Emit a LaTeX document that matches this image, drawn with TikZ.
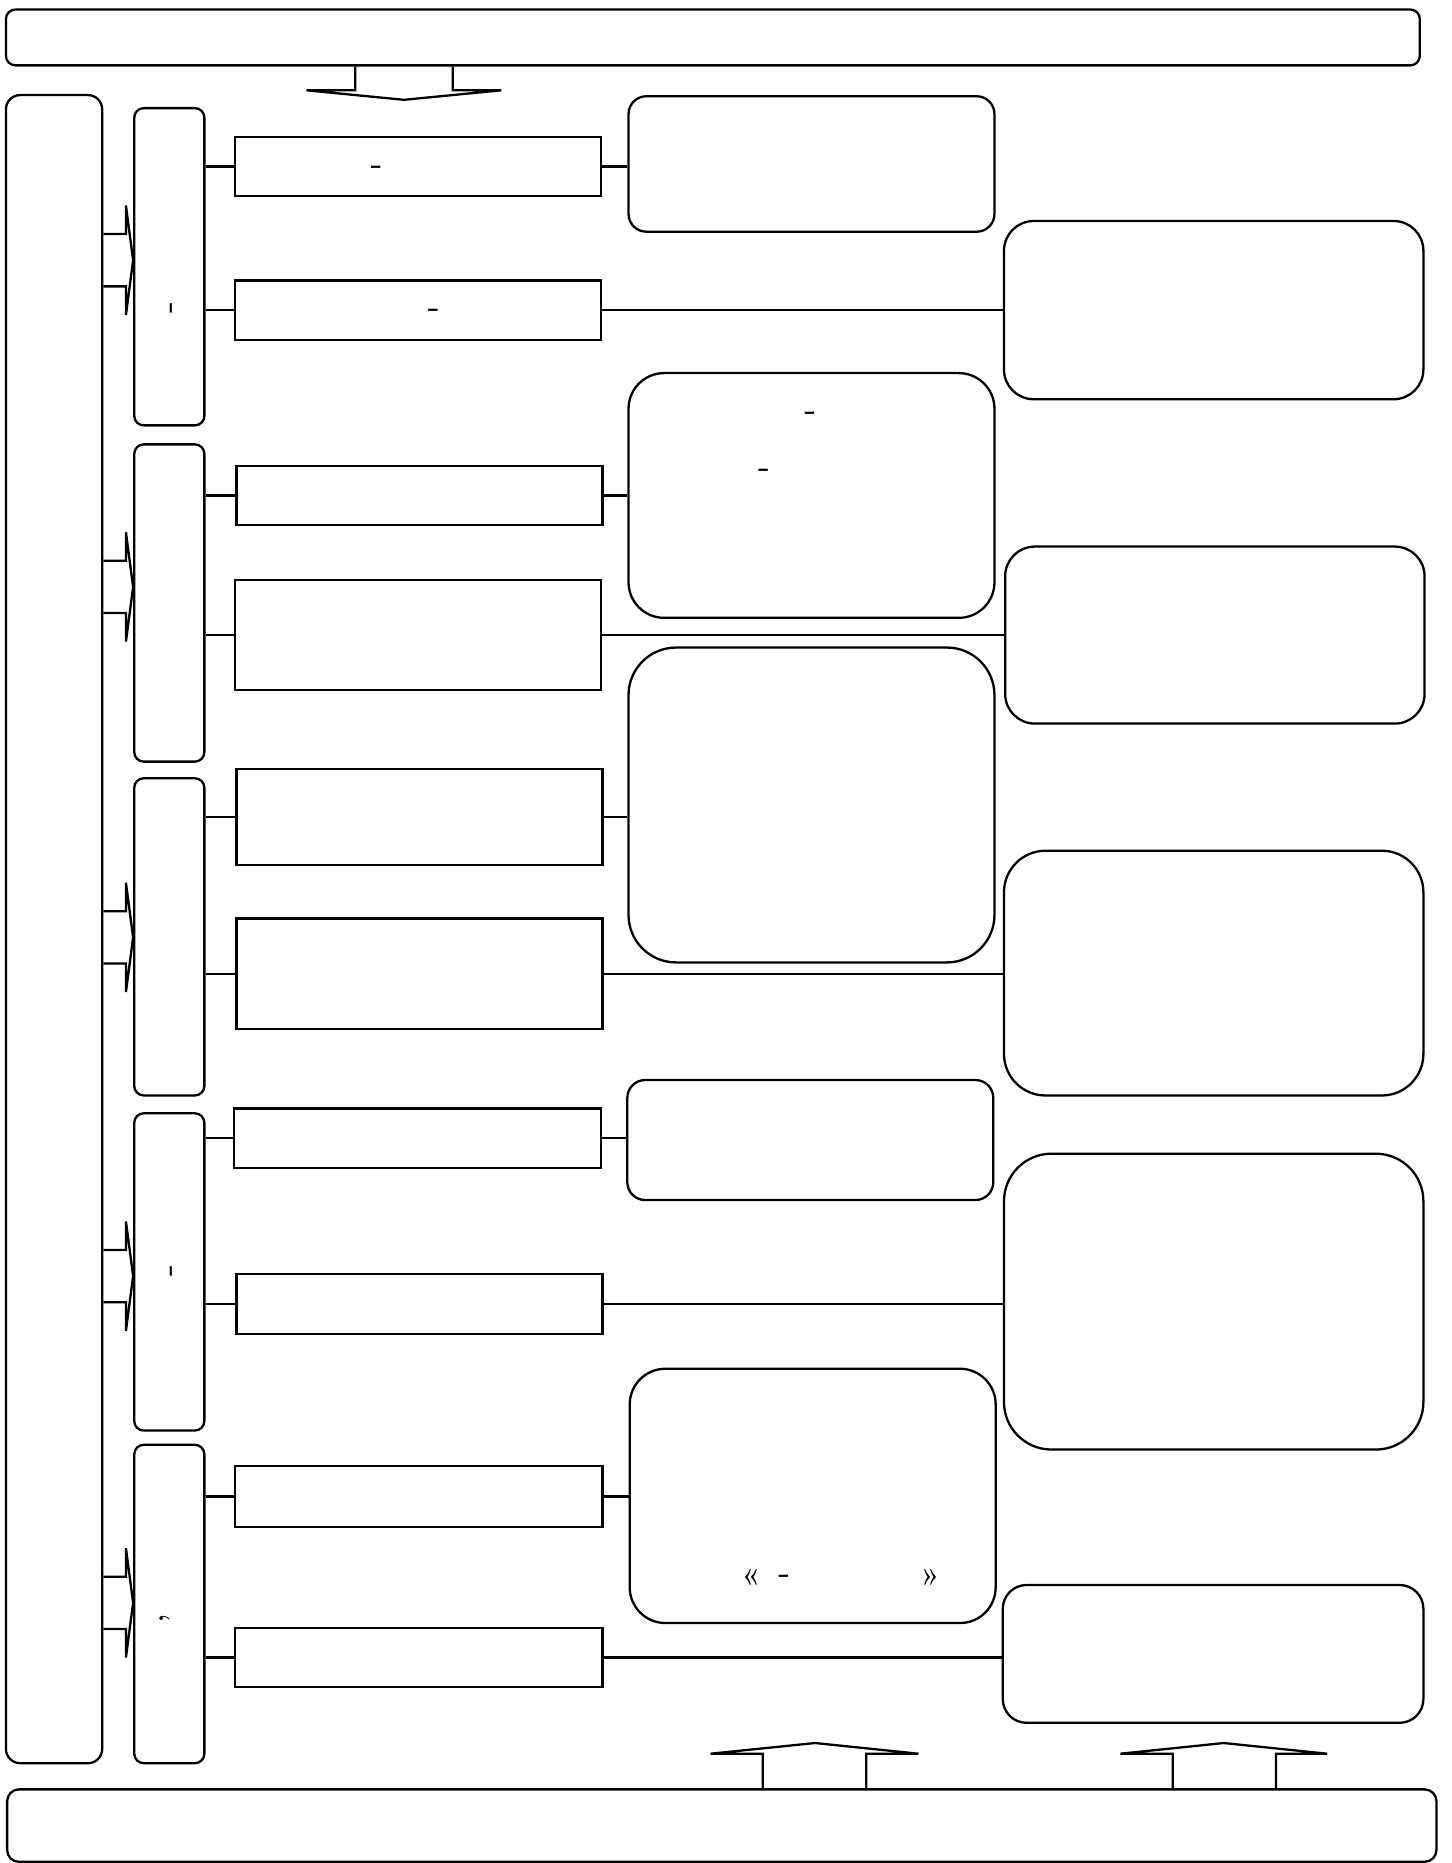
\documentclass[tikz,border=0pt]{standalone}
\usetikzlibrary{fit}
\begin{document}
\begin{tikzpicture}[
  x=0.1mm, y=-0.1mm,
  line width=0.55pt,
  panel/.style={draw,rounded corners=#1,inner sep=0pt},
  panel/.default=0.8mm,
  field/.style={draw,inner sep=0pt},
  glyph/.style={inner sep=0pt,font=\footnotesize}
]
\useasboundingbox (0,0) rectangle (1222,1568);
% frame
\node[panel] (head) [fit={(5,8) (1195,55)}] {};
\node[panel=1.2mm] (spine) [fit={(5,80) (86,1484)}] {};
\node[panel=1mm] (foot) [fit={(6,1506) (1209,1567)}] {};
% groups
\node[panel] (g1) [fit={(113,91) (172,358)}] {};
\node[panel] (g2) [fit={(113,374) (172,641)}] {};
\node[panel] (g3) [fit={(113,655) (172,922)}] {};
\node[panel] (g4) [fit={(113,937) (172,1204)}] {};
\node[panel] (g5) [fit={(113,1216) (172,1484)}] {};
% fields
\node[field] (r1) [fit={(198,115) (506,165)}] {};
\node[field] (r2) [fit={(198,236) (506,286)}] {};
\node[field] (r3) [fit={(199,392) (507,442)}] {};
\node[field] (r4) [fit={(198,488) (506,581)}] {};
\node[field] (r5) [fit={(199,647) (507,728)}] {};
\node[field] (r6) [fit={(199,773) (507,866)}] {};
\node[field] (r7) [fit={(197,933) (506,983)}] {};
\node[field] (r8) [fit={(199,1072) (507,1123)}] {};
\node[field] (r9) [fit={(198,1234) (507,1285)}] {};
\node[field] (r10) [fit={(198,1370) (507,1420)}] {};
% notes
\node[panel=1.5mm] (m1) [fit={(529,81) (837,195)}] {};
\node[panel=3mm] (m2) [fit={(529,314) (837,520)}] {};
\node[panel=4mm] (m3) [fit={(529,545) (837,810)}] {};
\node[panel=1.5mm] (m4) [fit={(528,909) (836,1010)}] {};
\node[panel=3mm] (m5) [fit={(530,1152) (838,1366)}] {};
% results
\node[panel=2.5mm] (q1) [fit={(845,186) (1198,336)}] {};
\node[panel=2.5mm] (q2) [fit={(846,460) (1199,609)}] {};
\node[panel=3.5mm] (q3) [fit={(845,716) (1198,922)}] {};
\node[panel=4mm] (q4) [fit={(845,971) (1198,1220)}] {};
\node[panel=2mm] (q5) [fit={(844,1334) (1198,1450)}] {};
% glyphs
\node[glyph] (t1) at (317,143) {-};
\node[glyph] (t2) at (365,264) {-};
\node[glyph] (t3) at (682,350) {-};
\node[glyph] (t4) at (643,398) {-};
\node[glyph] (t5) at (632,1328) {«};
\node[glyph] (t6) at (660,1329) {-};
\node[glyph] (t7) at (783,1328) {»};
\node[glyph,rotate=90] (t8) at (147,259) {-};
\node[glyph,rotate=90] (t9) at (147,1069) {-};
\node[glyph,rotate=90] (t10) at (139,1362) {,};
% block arrows
\draw (head.south -| 299,0) -- (299,76) -- (258,76) -- (340,84) -- (422,76) -- (381,76) -- (head.south -| 381,0);
\draw (foot.north -| 642,0) -- (642,1476) -- (598,1476) -- (686,1467) -- (773,1476) -- (729,1476) -- (foot.north -| 729,0);
\draw (foot.north -| 987,0) -- (987,1476) -- (943,1476) -- (1030,1467) -- (1117,1476) -- (1074,1476) -- (foot.north -| 1074,0);
\foreach \c in {219,494,789,1074,1349}
  \draw (spine.east |- 0,\c-22) -- (106,\c-22) -- (106,\c-46) -- (g1.west |- 0,\c) -- (106,\c+46) -- (106,\c+22) -- (spine.east |- 0,\c+22);
% connectors
\draw (r1.west -| g1.east) -- (r1.west);
\draw (r2.west -| g1.east) -- (r2.west);
\draw (r3.west -| g2.east) -- (r3.west);
\draw (r4.west -| g2.east) -- (r4.west);
\draw (r5.west -| g3.east) -- (r5.west);
\draw (r6.west -| g3.east) -- (r6.west);
\draw (r7.west -| g4.east) -- (r7.west);
\draw (r8.west -| g4.east) -- (r8.west);
\draw (r9.west -| g5.east) -- (r9.west);
\draw (r10.west -| g5.east) -- (r10.west);
\draw (r1.east) -- (r1.east -| m1.west);
\draw (r3.east) -- (r3.east -| m2.west);
\draw (r5.east) -- (r5.east -| m3.west);
\draw (r7.east) -- (r7.east -| m4.west);
\draw (r9.east) -- (r9.east -| m5.west);
\draw (r2.east) -- (r2.east -| q1.west);
\draw (r4.east) -- (r4.east -| q2.west);
\draw (r6.east) -- (r6.east -| q3.west);
\draw (r8.east) -- (r8.east -| q4.west);
\draw (r10.east) -- (r10.east -| q5.west);
\end{tikzpicture}
\end{document}
